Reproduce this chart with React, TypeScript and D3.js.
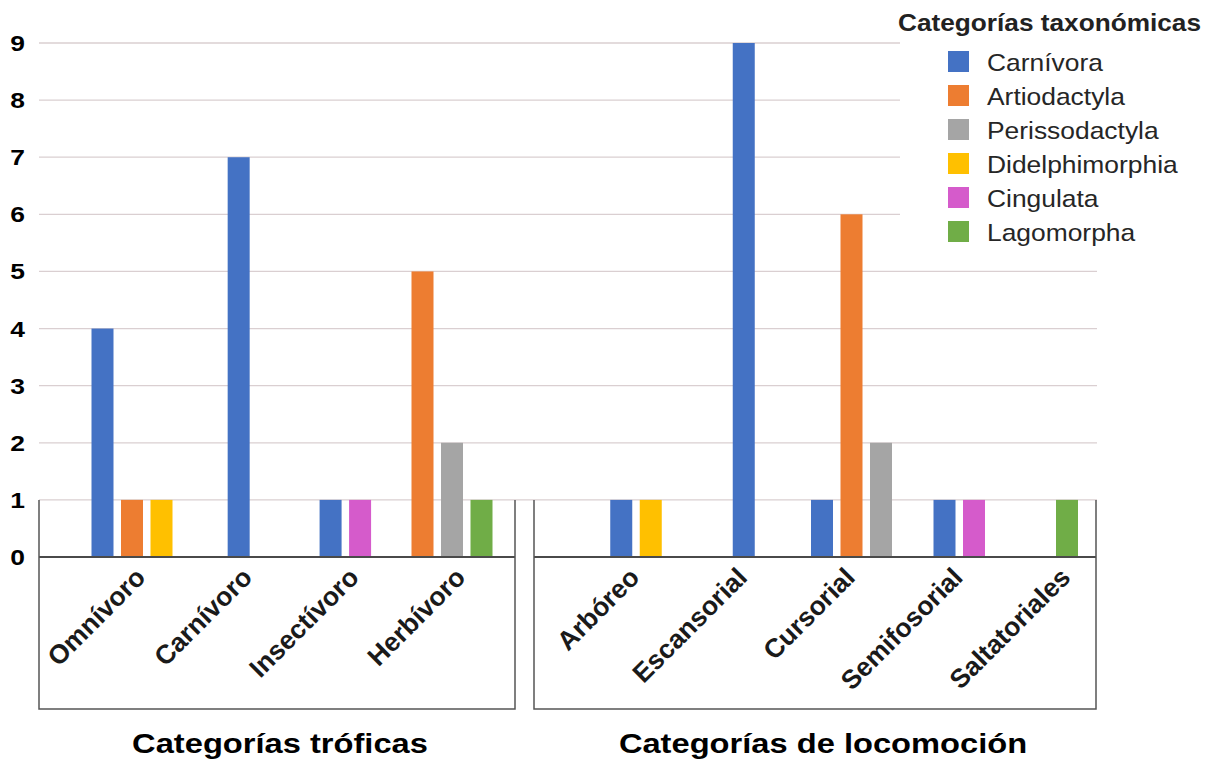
import * as d3 from 'd3';

const seriesNames = ['Carnívora', 'Artiodactyla', 'Perissodactyla', 'Didelphimorphia', 'Cingulata', 'Lagomorpha'];
const seriesColors = ['#4472c4', '#ed7d31', '#a5a5a5', '#ffc000', '#d55bcb', '#70ad47'];

const trophicCategories = ['Omnívoro', 'Carnívoro', 'Insectívoro', 'Herbívoro'];
// one row per series, one column per trophic category
const trophicValues = [
  [4, 7, 1, 0],
  [1, 0, 0, 5],
  [0, 0, 0, 2],
  [1, 0, 0, 0],
  [0, 0, 1, 0],
  [0, 0, 0, 1],
];

const locomotionCategories = ['Arbóreo', 'Escansorial', 'Cursorial', 'Semifosorial', 'Saltatoriales'];
const locomotionValues = [
  [1, 9, 1, 1, 0],
  [0, 0, 6, 0, 0],
  [0, 0, 2, 0, 0],
  [1, 0, 0, 0, 0],
  [0, 0, 0, 1, 0],
  [0, 0, 0, 0, 1],
];

const yTicks = [0, 1, 2, 3, 4, 5, 6, 7, 8, 9];
const panelTitles = ['Categorías tróficas', 'Categorías de locomoción'];
const legendTitle = 'Categorías taxonómicas';

const W = 1217;
const H = 762;
const FONT = '"Liberation Sans", Arial, Helvetica, sans-serif';
const BAR_W = 22;
const BAR_STEP = 29.5;
const GRID_X0 = 39;
const GRID_X1 = 1097;
const BOX_BOTTOM = 709;
const LABEL_Y = 579;

const y = d3.scaleLinear().domain([0, 9]).range([557, 43]);

const panels = [
  { x0: 39, x1: 515, points: [132, 452], labelShift: 15, titleShift: 3, cats: trophicCategories, values: trophicValues, title: panelTitles[0] },
  { x0: 534, x1: 1096, points: [636, 1067], labelShift: 5, titleShift: 8, cats: locomotionCategories, values: locomotionValues, title: panelTitles[1] },
];

const legendY = d3.scalePoint<string>().domain(seriesNames).range([61.5, 231.5]);

function Panel({ p }: { p: (typeof panels)[number] }) {
  const xCat = d3.scalePoint<string>().domain(p.cats).range(p.points as [number, number]);

  const bars: { key: string; x: number; v: number; color: string }[] = [];
  p.cats.forEach((cat, ci) => {
    const present = seriesNames.map((_, si) => si).filter((si) => p.values[si][ci] > 0);
    const c = xCat(cat)!;
    const inner = d3
      .scaleBand<number>()
      .domain(present)
      .range([c - (present.length * BAR_STEP) / 2, c + (present.length * BAR_STEP) / 2]);
    present.forEach((si) => {
      bars.push({
        key: `${cat}-${si}`,
        x: inner(si)! + (BAR_STEP - BAR_W) / 2,
        v: p.values[si][ci],
        color: seriesColors[si],
      });
    });
  });

  return (
    <g>
      {bars.map((b) => (
        <rect key={b.key} x={b.x} y={y(b.v)} width={BAR_W} height={y(0) - y(b.v)} fill={b.color} />
      ))}
      <line x1={p.x0} x2={p.x1} y1={y(0)} y2={y(0)} stroke="#4a4a4a" strokeWidth={2} />
      <path
        d={`M${p.x0},${y(1)}V${BOX_BOTTOM}H${p.x1}V${y(1)}`}
        fill="none"
        stroke="#555"
        strokeWidth={1.5}
      />
      {p.cats.map((cat) => (
        <text
          key={cat}
          transform={`translate(${xCat(cat)! + p.labelShift},${LABEL_Y}) rotate(-45)`}
          textAnchor="end"
          fontFamily={FONT}
          fontWeight="bold"
          fontSize={26.5}
          fill="#1a1a1a"
        >
          {cat}
        </text>
      ))}
      <text
        transform={`translate(${(p.x0 + p.x1) / 2 + p.titleShift},753) scale(1.21,1)`}
        textAnchor="middle"
        fontFamily={FONT}
        fontWeight="bold"
        fontSize={27}
        fill="#000"
      >
        {p.title}
      </text>
    </g>
  );
}

export default function App() {
  return (
    <svg
      width={W}
      height={H}
      style={{ position: 'absolute', left: 0, top: 0, background: '#fff' }}
    >
      <rect width={W} height={H} fill="#fff" />
      {yTicks
        .filter((t) => t > 0)
        .map((t) => (
          <line key={t} x1={GRID_X0} x2={GRID_X1} y1={y(t)} y2={y(t)} stroke="#dacfd1" strokeWidth={1.3} />
        ))}
      {yTicks.map((t) => (
        <text
          key={t}
          transform={`translate(25,${y(t) + 8}) scale(1.2,1)`}
          textAnchor="end"
          fontFamily={FONT}
          fontWeight="bold"
          fontSize={22}
          fill="#000"
        >
          {t}
        </text>
      ))}

      {/* legend */}
      <rect x={900} y={0} width={W - 900} height={252} fill="#fff" />
      <text
        transform="translate(898,31) scale(1.14,1)"
        fontFamily={FONT}
        fontWeight="bold"
        fontSize={23}
        fill="#222"
      >
        {legendTitle}
      </text>
      {seriesNames.map((name, i) => (
        <g key={name}>
          <rect x={948} y={legendY(name)! - 10.5} width={21} height={21} fill={seriesColors[i]} />
          <text
            transform={`translate(987,${legendY(name)! + 9}) scale(1.1,1)`}
            fontFamily={FONT}
            fontSize={24}
            fill="#262626"
          >
            {name}
          </text>
        </g>
      ))}

      {panels.map((p) => (
        <Panel key={p.title} p={p} />
      ))}
    </svg>
  );
}
